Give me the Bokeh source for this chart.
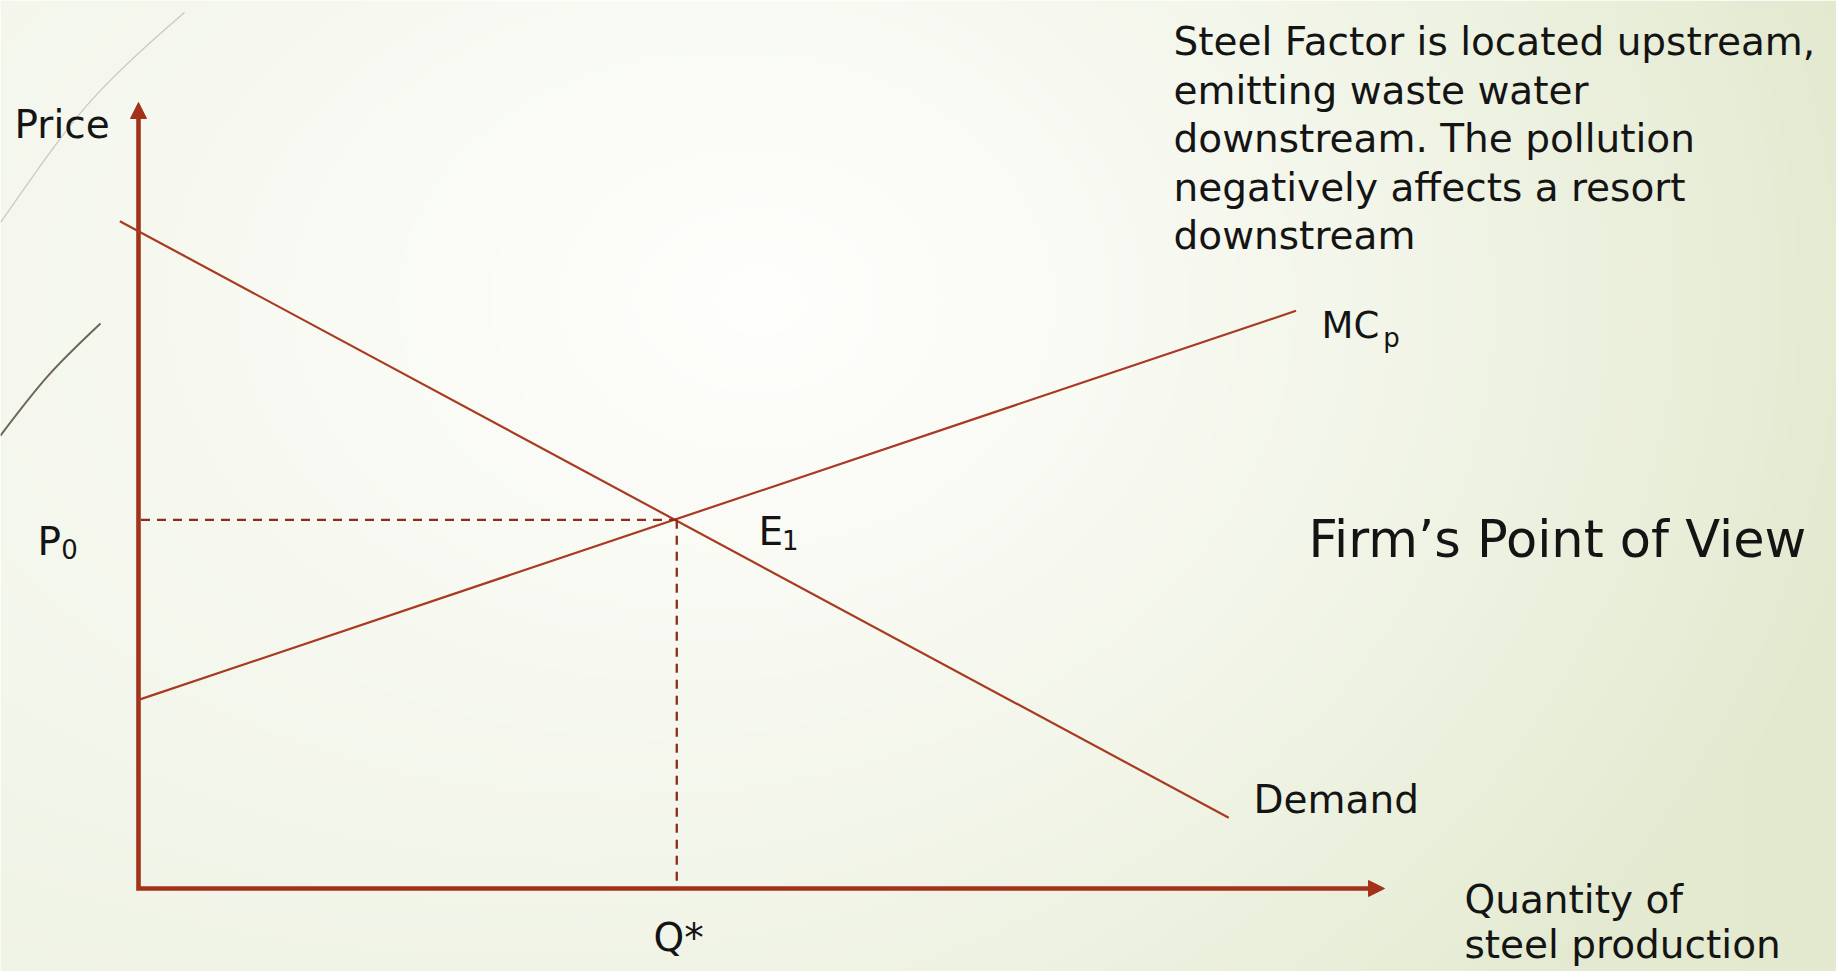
import numpy as np
from bokeh.plotting import figure
from bokeh.models import Arrow, NormalHead
from bokeh.core.properties import value
from bokeh.embed import file_html
from bokeh.resources import INLINE

# ---------------- data (economic units) ----------------
demand_q = [-0.15, 8.75]
demand_p = [8.49, 0.90]
mc_q = [0.0, 9.29]
mc_p = [2.40, 7.35]
q_star = 4.32
p_zero = 4.69
axis_max = 10.0

paragraph = [
    "Steel Factor is located upstream,",
    "emitting waste water",
    "downstream. The pollution",
    "negatively affects a resort",
    "downstream",
]
title_text = "Firm\u2019s Point of View"
x_label = ["Quantity of", "steel production"]
y_label = "Price"

# ---------------- layout ----------------
W, H = 1836, 971
XU, YU = 124.6, 78.6          # pixels per unit
X0PX, Y0PX = 138, 83          # origin offset (from left / from bottom)
x_range = (-X0PX / XU, (W - X0PX) / XU)
y_range = (-Y0PX / YU, (H - Y0PX) / YU)

AX = "#A3321A"
LN = "#A83A20"
DS = "#8E2C16"
TXT = "#141414"
FONT = value("DejaVu Sans")

p = figure(width=W, height=H, x_range=x_range, y_range=y_range,
           x_axis_type=None, y_axis_type=None, output_backend="svg",
           toolbar_location=None, min_border=0)
p.grid.visible = False
p.outline_line_color = None
p.background_fill_color = None
p.border_fill_color = None

# ---------------- background gradient ----------------
GH, GW = 240, 456
jj, ii = np.meshgrid(np.arange(GW), np.arange(GH))
fx = (jj + 0.5) / GW * W
fy = (1 - (ii + 0.5) / GH) * H
t = np.sqrt(((fx - 760) / 1150) ** 2 + ((fy - 300) / 900) ** 2)
t = np.clip(t, 0, 1) ** 1.15
frac = np.clip(fx / W, 0, 1)[..., None]
left = np.array([239, 243, 229], float)
right = np.array([226, 233, 206], float)
edge = left * (1 - frac) + right * frac
center = np.array([254, 254, 252], float)
col = center * (1 - t[..., None]) + edge * t[..., None]
rgba = np.zeros((GH, GW, 4), dtype=np.uint8)
rgba[..., :3] = np.round(col).astype(np.uint8)
rgba[..., 3] = 255
img = rgba.view(dtype=np.uint32).reshape((GH, GW))
p.image_rgba(image=[img], x=x_range[0], y=y_range[0],
             dw=x_range[1] - x_range[0], dh=y_range[1] - y_range[0])

# decorative theme curves (top-left)
p.bezier(x0=[-1.108], y0=[8.473], x1=[0.369], y1=[11.145],
         cx0=[-0.50], cy0=[9.85], cx1=[-0.40], cy1=[10.10],
         line_color="#C9CBBE", line_width=1.3)
p.bezier(x0=[-1.108], y0=[5.763], x1=[-0.305], y1=[7.188],
         cx0=[-0.78], cy0=[6.45], cx1=[-0.70], cy1=[6.60],
         line_color="#6F6658", line_width=2)

# ---------------- axes ----------------
p.line(x=[0, 0, axis_max - 0.06], y=[axis_max - 0.1, 0, 0],
       line_color=AX, line_width=4.6, line_join="miter")
for xs, ys, xe, ye in [(0, axis_max - 0.3, 0, axis_max),
                       (axis_max - 0.2, 0, axis_max, 0)]:
    p.add_layout(Arrow(end=NormalHead(size=16, fill_color=AX, line_color=AX, line_width=1),
                       x_start=xs, y_start=ys, x_end=xe, y_end=ye,
                       line_alpha=0, line_width=0))

# ---------------- curves ----------------
p.line(demand_q, demand_p, line_color=LN, line_width=2.2)
p.line(mc_q, mc_p, line_color=LN, line_width=2.2)

# dashed guides
p.line([0.02, q_star], [p_zero, p_zero], line_color=DS, line_width=2.3, line_dash="9 7")
p.line([q_star, q_star], [p_zero, 0.03], line_color=DS, line_width=2.3, line_dash="9 7")

# ---------------- texts ----------------
DY = 0.178
def txt(x, y, s, size="39px", align="left"):
    p.text(x=[x], y=[y + DY], text=[s], text_font=FONT, text_font_size=size,
           text_color=TXT, text_baseline="alphabetic", text_align=align)

txt(-0.995, 9.542, y_label)
txt(-0.811, 4.237, "P")
txt(-0.620, 4.140, "0", size="26px")
txt(q_star + 0.656, p_zero - 0.326, "E")
txt(q_star + 0.845, p_zero - 0.435, "1", size="26px")
txt(mc_q[1] + 0.204, mc_p[1] - 0.365, "MC", size="37px")
txt(mc_q[1] + 0.700, mc_p[1] - 0.525, "p", size="26px")
txt(demand_q[1] + 0.199, demand_p[1] + 0.054, "Demand")
txt(q_star - 0.187, -0.802, "Q*")
txt(10.642, -0.318, x_label[0])
txt(10.642, -0.891, x_label[1])
txt(9.390, 4.160 + 0.10, title_text, size="51px")

line_step = 48.6 / YU
for k, s in enumerate(paragraph):
    txt(8.307, 10.598 - k * line_step, s)

open("out.html", "w").write(file_html(p, INLINE))
